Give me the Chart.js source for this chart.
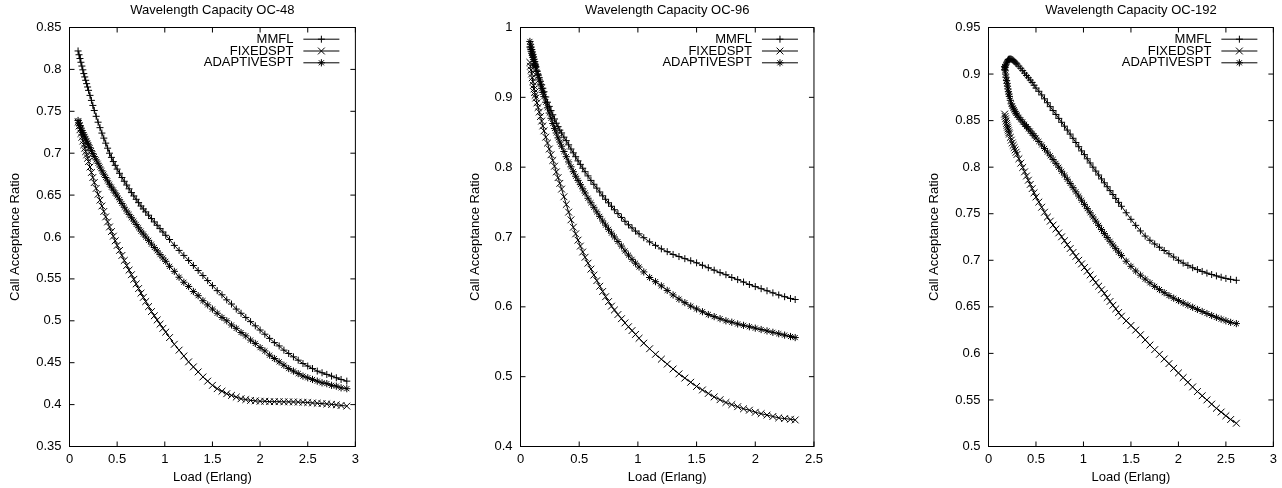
<!DOCTYPE html>
<html>
<head>
<meta charset="utf-8">
<title>Wavelength Capacity</title>
<script src="https://cdn.jsdelivr.net/npm/chart.js@4.4.1/dist/chart.umd.min.js"></script>
<style>
  html, body { margin: 0; padding: 0; background: #fff; }
  body { position: relative; width: 1282px; height: 488px; overflow: hidden; }
  canvas { position: absolute; top: 0; }
</style>
</head>
<body>
<canvas id="oc48"></canvas>
<canvas id="oc96"></canvas>
<canvas id="oc192"></canvas>
<script>
// series names (legend order)
const seriesNames = ["MMFL", "FIXEDSPT", "ADAPTIVESPT"];

// ---- OC-48 ----
const loads48 = [
  0.09, 0.1, 0.11, 0.12, 0.13, 0.14, 0.15, 0.16, 0.17, 0.18, 0.19, 0.2,
  0.215, 0.23, 0.245, 0.26,
  0.28, 0.3, 0.32, 0.34, 0.36, 0.38, 0.4, 0.42, 0.44, 0.46, 0.48, 0.5,
  0.525, 0.55, 0.575, 0.6, 0.625, 0.65, 0.675, 0.7, 0.725, 0.75, 0.775, 0.8,
  0.83, 0.86, 0.89, 0.92, 0.95, 0.98, 1.01,
  1.05, 1.1, 1.15, 1.2, 1.25, 1.3, 1.35, 1.4, 1.45, 1.5, 1.55, 1.6, 1.65, 1.7, 1.75, 1.8, 1.85, 1.9,
  1.95, 2.0, 2.05, 2.1, 2.15, 2.2, 2.25, 2.3, 2.35, 2.4, 2.45, 2.5, 2.55, 2.6, 2.65, 2.7, 2.75, 2.8, 2.85,
  2.91];
const mmfl48 = [
  0.822, 0.8175, 0.813, 0.8085, 0.804, 0.7995, 0.795, 0.791, 0.787, 0.783, 0.779, 0.775,
  0.769, 0.763, 0.757, 0.751,
  0.744, 0.737, 0.7305, 0.724, 0.718, 0.712, 0.706, 0.700, 0.695, 0.690, 0.6855, 0.681,
  0.676, 0.671, 0.6665, 0.662, 0.6575, 0.653, 0.649, 0.645, 0.641, 0.637, 0.6335, 0.630,
  0.626, 0.622, 0.618, 0.614, 0.610, 0.606, 0.602,
  0.597, 0.590, 0.584, 0.578, 0.572, 0.566, 0.560, 0.554, 0.548, 0.542, 0.536, 0.531, 0.525, 0.520,
  0.514, 0.509, 0.504, 0.499, 0.494, 0.489, 0.484, 0.479, 0.474, 0.470, 0.465, 0.461, 0.457, 0.453,
  0.449, 0.446, 0.443, 0.440, 0.438, 0.436, 0.434, 0.432, 0.430,
  0.428];
const fixed48 = [
  0.737, 0.7325, 0.728, 0.7235, 0.719, 0.7145, 0.710, 0.706, 0.702, 0.698, 0.694, 0.690,
  0.6835, 0.677, 0.671, 0.665,
  0.658, 0.651, 0.644, 0.637, 0.6305, 0.624, 0.618, 0.612, 0.6065, 0.601, 0.5955, 0.590,
  0.584, 0.578, 0.572, 0.566, 0.5605, 0.555, 0.5495, 0.544, 0.5385, 0.533, 0.528, 0.523,
  0.517, 0.511, 0.506, 0.501, 0.496, 0.491, 0.4865,
  0.480, 0.472, 0.465, 0.458, 0.451, 0.445, 0.439, 0.433, 0.428, 0.423, 0.419, 0.416, 0.413, 0.411,
  0.409, 0.407, 0.406, 0.405, 0.4045, 0.404, 0.404, 0.4035, 0.4035, 0.4035, 0.4033, 0.4033, 0.4032,
  0.403, 0.4028, 0.4025, 0.402, 0.4016, 0.4012, 0.4008, 0.4003, 0.3997, 0.399,
  0.3982];
const adaptive48 = [
  0.739, 0.736, 0.733, 0.730, 0.727, 0.7245, 0.722, 0.7195, 0.717, 0.7145, 0.712, 0.710,
  0.7065, 0.703, 0.6995, 0.696,
  0.692, 0.688, 0.6835, 0.679, 0.675, 0.671, 0.667, 0.663, 0.6595, 0.656, 0.6525, 0.649,
  0.6445, 0.640, 0.6355, 0.631, 0.627, 0.623, 0.619, 0.615, 0.611, 0.607, 0.6035, 0.600,
  0.596, 0.5915, 0.5875, 0.5835, 0.579, 0.575, 0.571,
  0.565, 0.559, 0.552, 0.546, 0.541, 0.535, 0.530, 0.524, 0.519, 0.514, 0.509, 0.504, 0.500, 0.495,
  0.491, 0.486, 0.482, 0.477, 0.473, 0.468, 0.464, 0.459, 0.455, 0.451, 0.447, 0.443, 0.440, 0.437,
  0.434, 0.432, 0.430, 0.428, 0.426, 0.425, 0.423, 0.422, 0.420,
  0.419];
const xTicks48 = [0, 0.5, 1, 1.5, 2, 2.5, 3];
const yTicks48 = [0.35, 0.4, 0.45, 0.5, 0.55, 0.6, 0.65, 0.7, 0.75, 0.8, 0.85];

// ---- OC-96 ----
const loads96 = [
  0.08, 0.085, 0.09, 0.095, 0.1, 0.105, 0.11, 0.115, 0.12, 0.125, 0.13, 0.14, 0.15, 0.16, 0.17, 0.18, 0.19, 0.2,
  0.215, 0.23, 0.245, 0.26, 0.275, 0.29, 0.305, 0.32, 0.335, 0.35,
  0.37, 0.39, 0.41, 0.43, 0.45, 0.47, 0.49, 0.51, 0.53, 0.55, 0.575, 0.6, 0.625, 0.65, 0.675, 0.7,
  0.725, 0.75, 0.775, 0.8,
  0.83, 0.86, 0.89, 0.92, 0.95, 0.98, 1.01,
  1.05, 1.1, 1.15, 1.2, 1.25, 1.3, 1.35, 1.4, 1.45, 1.5, 1.55, 1.6, 1.65, 1.7, 1.75, 1.8, 1.85, 1.9,
  1.95, 2.0, 2.05, 2.1, 2.15, 2.2, 2.25, 2.3,
  2.34];
const mmfl96 = [
  0.972, 0.969, 0.966, 0.963, 0.960, 0.957, 0.954, 0.951, 0.948, 0.9455, 0.943, 0.938, 0.933, 0.928,
  0.923, 0.918, 0.913, 0.908,
  0.9005, 0.893, 0.887, 0.881, 0.875, 0.869, 0.863, 0.858, 0.853, 0.849,
  0.843, 0.838, 0.832, 0.826, 0.8205, 0.815, 0.809, 0.804, 0.7985, 0.7935, 0.7875, 0.781, 0.7755,
  0.770, 0.7645, 0.759, 0.754, 0.749, 0.744, 0.739,
  0.7335, 0.728, 0.7225, 0.7175, 0.713, 0.7085, 0.7045,
  0.699, 0.693, 0.688, 0.683, 0.679, 0.675, 0.672, 0.669, 0.666, 0.663, 0.6595, 0.656, 0.6525, 0.649,
  0.646, 0.642, 0.639, 0.6355, 0.632, 0.629, 0.626, 0.623, 0.620, 0.617, 0.6145, 0.612,
  0.6105];
const fixed96 = [
  0.950, 0.9445, 0.939, 0.9335, 0.928, 0.9225, 0.917, 0.912, 0.907, 0.903, 0.899, 0.892, 0.8855, 0.879,
  0.8725, 0.866, 0.859, 0.852,
  0.843, 0.8345, 0.826, 0.8178, 0.8096, 0.8014, 0.7932, 0.785, 0.7768, 0.7686,
  0.7576, 0.7466, 0.7356, 0.7246, 0.714, 0.7045, 0.6955, 0.687, 0.6785, 0.671, 0.6625, 0.654, 0.6455,
  0.6375, 0.6295, 0.622, 0.6145, 0.6075, 0.601, 0.5955,
  0.589, 0.583, 0.577, 0.5715, 0.566, 0.5605, 0.555,
  0.548, 0.540, 0.532, 0.525, 0.518, 0.511, 0.504, 0.498, 0.492, 0.486, 0.481, 0.476, 0.471, 0.467,
  0.463, 0.460, 0.457, 0.454, 0.452, 0.449, 0.447, 0.445, 0.443, 0.441, 0.440, 0.439,
  0.438];
const adaptive96 = [
  0.980, 0.976, 0.972, 0.9685, 0.965, 0.9615, 0.958, 0.9545, 0.951, 0.9475, 0.944, 0.937, 0.931, 0.925,
  0.919, 0.913, 0.907, 0.901,
  0.893, 0.885, 0.8775, 0.870, 0.8625, 0.8555, 0.849, 0.842, 0.836, 0.830,
  0.8225, 0.815, 0.8075, 0.8005, 0.7935, 0.787, 0.781, 0.775, 0.769, 0.763, 0.7555, 0.749, 0.7425,
  0.736, 0.7295, 0.723, 0.717, 0.711, 0.7055, 0.700,
  0.6935, 0.687, 0.680, 0.674, 0.668, 0.6625, 0.657,
  0.650, 0.642, 0.636, 0.630, 0.6235, 0.617, 0.611, 0.606, 0.601, 0.597, 0.593, 0.589, 0.586, 0.583,
  0.580, 0.578, 0.5755, 0.5735, 0.5715, 0.5695, 0.5675, 0.5655, 0.5635, 0.5615, 0.5595, 0.5575,
  0.556];
const xTicks96 = [0, 0.5, 1, 1.5, 2, 2.5];
const yTicks96 = [0.4, 0.5, 0.6, 0.7, 0.8, 0.9, 1];

// ---- OC-192 ----
const loads192 = [
  0.17, 0.175, 0.18, 0.185, 0.19, 0.195, 0.2, 0.205, 0.21, 0.215, 0.22, 0.23, 0.24, 0.25, 0.26, 0.27,
  0.28, 0.29, 0.3,
  0.32, 0.34, 0.36, 0.38, 0.4, 0.42, 0.44, 0.46, 0.48, 0.5,
  0.53, 0.56, 0.59, 0.62, 0.65, 0.68, 0.71, 0.74, 0.77, 0.8, 0.83, 0.86, 0.89, 0.92, 0.95, 0.98, 1.01,
  1.04, 1.07, 1.1, 1.13, 1.16, 1.19, 1.22, 1.25, 1.28, 1.31, 1.34, 1.37, 1.4,
  1.45, 1.5, 1.55, 1.6, 1.65, 1.7, 1.75, 1.8, 1.85, 1.9, 1.95, 2.0, 2.05, 2.1, 2.15, 2.2, 2.25, 2.3,
  2.35, 2.4, 2.45, 2.5, 2.55,
  2.61];
const mmfl192 = [
  0.905, 0.907, 0.909, 0.9105, 0.912, 0.913, 0.914, 0.915, 0.9155, 0.916, 0.916, 0.9162, 0.916, 0.9155,
  0.9148, 0.9138, 0.9128, 0.9118, 0.9107,
  0.9085, 0.9062, 0.9037, 0.901, 0.8985, 0.896, 0.8935, 0.891, 0.888, 0.885,
  0.8815, 0.8776, 0.8734, 0.8692, 0.865, 0.8608, 0.8566, 0.8524, 0.8482, 0.844, 0.8398, 0.8355, 0.831,
  0.8265, 0.822, 0.8175, 0.8135, 0.809, 0.8045, 0.800, 0.7958, 0.7916, 0.7874, 0.7832, 0.779, 0.7748,
  0.7706, 0.7664, 0.7622, 0.758,
  0.751, 0.744, 0.7375, 0.7315, 0.726, 0.7215, 0.7175, 0.714, 0.7105, 0.707, 0.7035, 0.700, 0.697,
  0.6945, 0.692, 0.690, 0.688, 0.6862, 0.6847, 0.6832, 0.6818, 0.6805, 0.6795,
  0.6785];
const fixed192 = [
  0.857, 0.8545, 0.852, 0.8495, 0.847, 0.845, 0.843, 0.841, 0.839, 0.837, 0.8355, 0.832, 0.829, 0.826,
  0.8235, 0.821, 0.8185, 0.816, 0.8137,
  0.809, 0.8043, 0.7997, 0.795, 0.7905, 0.786, 0.7815, 0.777, 0.7725, 0.768,
  0.7625, 0.757, 0.7516, 0.7464, 0.742, 0.7378, 0.7336, 0.7294, 0.7252, 0.721, 0.7168, 0.7126, 0.7084,
  0.7042, 0.700, 0.6961, 0.6922, 0.6883, 0.6842, 0.680, 0.6761, 0.6722, 0.6683, 0.6644, 0.660, 0.6558,
  0.6517, 0.6478, 0.6439, 0.640,
  0.635, 0.630, 0.625, 0.620, 0.6145, 0.609, 0.604, 0.599, 0.594, 0.589, 0.584, 0.579, 0.574, 0.569,
  0.564, 0.559, 0.5545, 0.550, 0.5455, 0.541, 0.537, 0.533, 0.529,
  0.525];
const adaptive192 = [
  0.908, 0.904, 0.900, 0.8965, 0.893, 0.890, 0.887, 0.884, 0.881, 0.8785, 0.876, 0.8718, 0.868, 0.8655,
  0.8635, 0.8615, 0.8596, 0.8578, 0.856,
  0.8535, 0.851, 0.8485, 0.846, 0.8436, 0.8412, 0.8388, 0.8363, 0.8338, 0.8313,
  0.8276, 0.8239, 0.8201, 0.8162, 0.8122, 0.8082, 0.8041, 0.7999, 0.7956, 0.7915, 0.787, 0.7825, 0.778,
  0.7735, 0.769, 0.7645, 0.760, 0.7555, 0.751, 0.7465, 0.742, 0.7375, 0.733, 0.7287, 0.7245, 0.7204,
  0.7164, 0.7125, 0.7087, 0.705,
  0.699, 0.6935, 0.6885, 0.684, 0.6798, 0.6758, 0.672, 0.6685, 0.6652, 0.6621, 0.6593, 0.6567, 0.6542,
  0.6518, 0.6495, 0.6472, 0.645, 0.6428, 0.6407, 0.6387, 0.6368, 0.635, 0.6333,
  0.632];
const xTicks192 = [0, 0.5, 1, 1.5, 2, 2.5, 3];
const yTicks192 = [0.5, 0.55, 0.6, 0.65, 0.7, 0.75, 0.8, 0.85, 0.9, 0.95];

// gnuplot-like point types: +, x, *
const markers = [
  { pointStyle: "cross", pointRadius: 3.5 },
  { pointStyle: "crossRot", pointRadius: 4.8 },
  { pointStyle: "star", pointRadius: 3.6 },
];

Chart.defaults.font.family = "'Liberation Sans', Arial, sans-serif";
Chart.defaults.font.size = 13;
Chart.defaults.color = "#000";

// frame with inward mirrored ticks + key in the upper right, like gnuplot
const TICK = 5;
const gnuplotFrame = {
  id: "gnuplotFrame",
  afterDraw(chart) {
    const { ctx, chartArea: a, scales } = chart;
    const x = scales.x, y = scales.y;
    ctx.save();
    ctx.strokeStyle = "#000";
    ctx.lineWidth = 1;
    ctx.strokeRect(a.left, a.top, a.right - a.left, a.bottom - a.top);
    ctx.beginPath();
    x.ticks.forEach((t) => {
      const px = x.getPixelForValue(t.value);
      ctx.moveTo(px, a.bottom);
      ctx.lineTo(px, a.bottom - TICK);
      ctx.moveTo(px, a.top);
      ctx.lineTo(px, a.top + TICK);
    });
    y.ticks.forEach((t) => {
      const py = y.getPixelForValue(t.value);
      ctx.moveTo(a.left, py);
      ctx.lineTo(a.left + TICK, py);
      ctx.moveTo(a.right, py);
      ctx.lineTo(a.right - TICK, py);
    });
    ctx.stroke();

    // key
    ctx.font = "13px 'Liberation Sans', Arial, sans-serif";
    ctx.fillStyle = "#000";
    ctx.textAlign = "right";
    ctx.textBaseline = "middle";
    chart.data.datasets.forEach((ds, i) => {
      const rowY = a.top + 11.7 + i * 11.8;
      ctx.fillText(ds.label, a.right - 62, rowY);
      ctx.beginPath();
      ctx.moveTo(a.right - 52, rowY);
      ctx.lineTo(a.right - 16, rowY);
      ctx.stroke();
      Chart.helpers.drawPoint(ctx, { pointStyle: ds.pointStyle, radius: ds.pointRadius, borderWidth: 1 }, a.right - 34, rowY);
    });
    ctx.restore();
  },
};

const panels = [
  { id: "oc48", title: "Wavelength Capacity OC-48", loads: loads48, series: [mmfl48, fixed48, adaptive48],
    xTicks: xTicks48, yTicks: yTicks48, left: 0, width: 364, axisWidth: 69.5, plotWidth: 289, titleGap: 7.2 },
  { id: "oc96", title: "Wavelength Capacity OC-96", loads: loads96, series: [mmfl96, fixed96, adaptive96],
    xTicks: xTicks96, yTicks: yTicks96, left: 450, width: 378, axisWidth: 70.5, plotWidth: 297, titleGap: 17.2 },
  { id: "oc192", title: "Wavelength Capacity OC-192", loads: loads192, series: [mmfl192, fixed192, adaptive192],
    xTicks: xTicks192, yTicks: yTicks192, left: 918, width: 364, axisWidth: 70.5, plotWidth: 288, titleGap: 8.2 },
];

panels.forEach((p) => {
  const canvas = document.getElementById(p.id);
  canvas.width = p.width;
  canvas.height = 488;
  canvas.style.left = p.left + "px";
  canvas.style.width = p.width + "px";
  canvas.style.height = "488px";

  new Chart(canvas.getContext("2d"), {
    type: "scatter",
    data: {
      datasets: p.series.map((vals, i) => ({
        label: seriesNames[i],
        data: p.loads.map((x, j) => ({ x: x, y: vals[j] })),
        showLine: true,
        borderColor: "#000",
        borderWidth: 1,
        pointBorderColor: "#000",
        pointBackgroundColor: "#000",
        pointBorderWidth: 1,
        pointStyle: markers[i].pointStyle,
        pointRadius: markers[i].pointRadius,
        tension: 0,
      })),
    },
    options: {
      responsive: false,
      animation: false,
      events: [],
      layout: {
        padding: { left: 0, top: 0, bottom: 0, right: p.width - p.axisWidth - p.plotWidth },
      },
      plugins: {
        legend: { display: false },
        tooltip: { enabled: false },
        title: {
          display: true,
          text: p.title,
          fullSize: false,
          color: "#000",
          font: { size: 13, weight: "normal" },
          padding: { top: 2.4, bottom: 9.5 },
        },
      },
      scales: {
        x: {
          type: "linear",
          min: p.xTicks[0],
          max: p.xTicks[p.xTicks.length - 1],
          grid: { display: false, drawTicks: false },
          border: { display: false },
          ticks: {
            padding: 5,
            color: "#000",
            maxRotation: 0,
            autoSkip: false,
            callback: (v) => String(v),
          },
          title: {
            display: true,
            text: "Load (Erlang)",
            color: "#000",
            padding: { top: 0, bottom: 2.9 },
          },
          afterBuildTicks: (s) => { s.ticks = p.xTicks.map((v) => ({ value: v })); },
          afterFit: (s) => { s.height = 41.5; },
        },
        y: {
          type: "linear",
          min: p.yTicks[0],
          max: p.yTicks[p.yTicks.length - 1],
          grid: { display: false, drawTicks: false },
          border: { display: false },
          ticks: {
            padding: 8,
            color: "#000",
            autoSkip: false,
            callback: (v) => String(v),
          },
          title: {
            display: true,
            text: "Call Acceptance Ratio",
            color: "#000",
            padding: { top: p.titleGap, bottom: 0 },
          },
          afterBuildTicks: (s) => { s.ticks = p.yTicks.map((v) => ({ value: v })); },
          afterFit: (s) => { s.width = p.axisWidth; },
        },
      },
    },
    plugins: [gnuplotFrame],
  });
});
</script>
</body>
</html>
